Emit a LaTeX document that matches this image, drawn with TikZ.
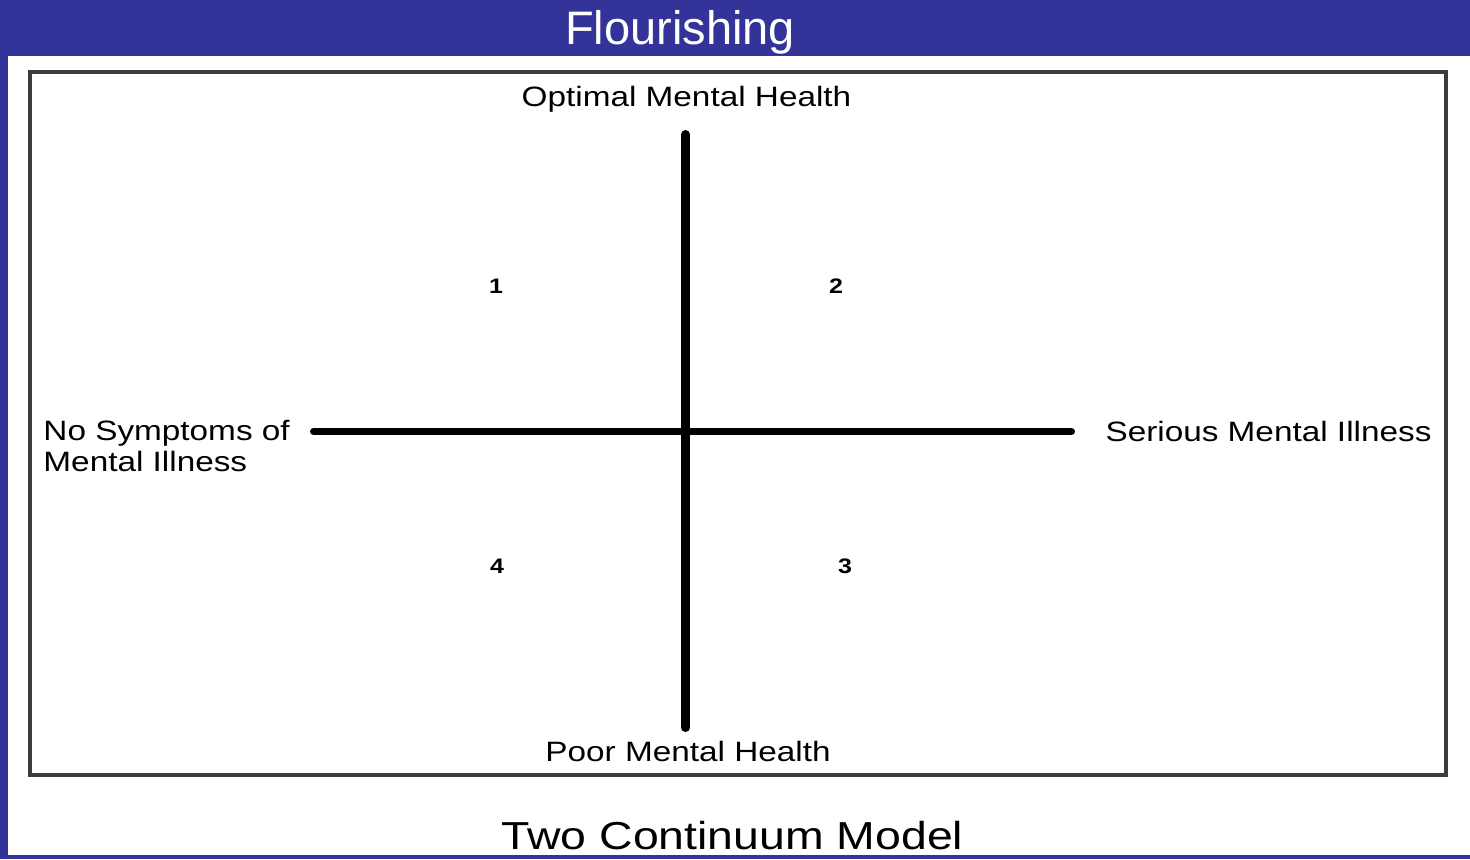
\documentclass[tikz,border=0pt]{standalone}
\usepackage{fontspec}
\setmainfont{Liberation Sans}
\definecolor{slideblue}{HTML}{333399}
\definecolor{framegray}{HTML}{3C3C3C}
\begin{document}
\begin{tikzpicture}[x=0.5pt,y=-0.5pt,
  axislabel/.style={inner sep=0pt,font=\fontsize{14}{16}\selectfont,xscale=1.19},
  quadnum/.style={inner sep=0pt,font=\fontsize{10.5}{12}\selectfont\bfseries,xscale=1.19},
  axisline/.style={line cap=round,black}]
% background
\fill[slideblue] (0,0) rectangle (1470,859);
\useasboundingbox (0,0) rectangle (1470,859);
\fill[white] (8,56) rectangle (1470,855);
% title
\node[inner sep=0pt,text=white,font=\fontsize{23.5}{26}\selectfont] (title) at (680,32) {Flourishing};
% frame
\draw[framegray,line width=2pt] (29.5,71.5) rectangle (1445.5,774.5);
% axes
\coordinate (vtop) at (685.5,134.5);
\coordinate (vbot) at (685.5,727.5);
\coordinate (hleft) at (313.5,431.5);
\coordinate (hright) at (1071.5,431.5);
\draw[axisline,line width=4.5pt] (vtop) -- (vbot);
\draw[axisline,line width=3.5pt] (hleft) -- (hright);
% labels
\node[axislabel] (top) at (686.5,99) {Optimal Mental Health};
\node[axislabel] (bottom) at (688,751) {Poor Mental Health};
\node[axislabel] (right) at (1268.5,431) {Serious Mental Illness};
\node[axislabel,anchor=west,align=left] (left) at (43,446) {No Symptoms of\\[-0.5pt]Mental Illness};
\node[quadnum] (q1) at (496,286) {1};
\node[quadnum] (q2) at (836,286) {2};
\node[quadnum] (q3) at (845,566) {3};
\node[quadnum] (q4) at (497,566) {4};
% caption
\node[inner sep=0pt,font=\fontsize{19.5}{22}\selectfont,xscale=1.19] (caption) at (732.5,836) {Two Continuum Model};
\end{tikzpicture}
\end{document}
